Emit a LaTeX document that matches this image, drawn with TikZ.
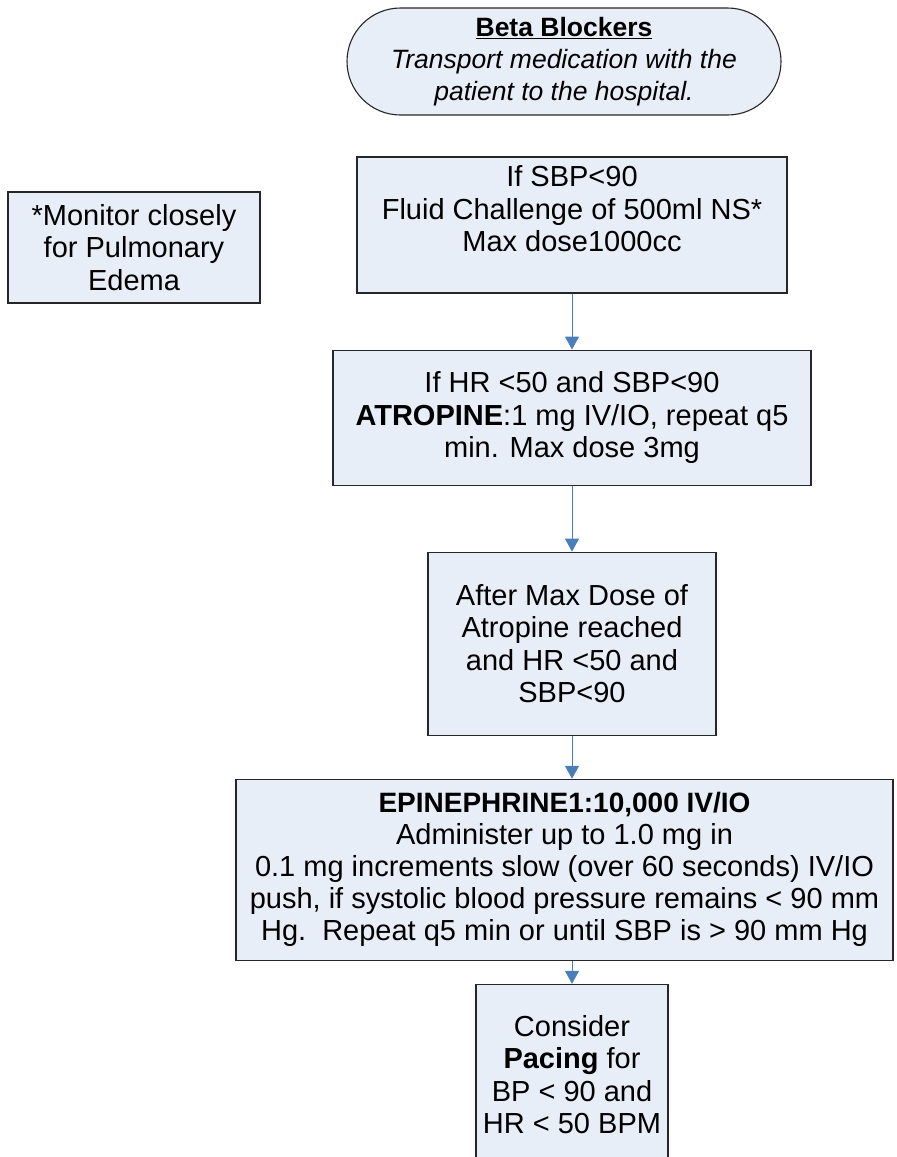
\documentclass[tikz,border=0pt]{standalone}
\usepackage{fontspec}
\setmainfont{Liberation Sans}
\usepackage{tikz}
\usetikzlibrary{shapes,arrows.meta}
\usetikzlibrary{positioning}
\usepackage{xcolor}
\definecolor{boxfill}{RGB}{232,238,247}
\definecolor{flowblue}{RGB}{74,126,187}

\tikzset{
  stepbox/.style={draw=black!85, line width=1.1pt, fill=boxfill, align=center,
    inner sep=0pt, font=\fontsize{29}{32.5}\selectfont},
  flow/.style={draw=flowblue, line width=1pt, -{Triangle[width=14pt,length=13pt]}}
}

\begin{document}
\begin{tikzpicture}[x=1pt, y=-1pt]
  \useasboundingbox (0,0) rectangle (897,1157);

  \node[stepbox, rounded corners=53.5pt, minimum width=434pt, minimum height=107pt,
        font=\fontsize{26.5}{32}\selectfont] (start) at (564,61.5)
        {\underline{\textbf{Beta Blockers}}\\\textit{Transport medication with the}\\\textit{patient to the hospital.}};

  \node[stepbox, minimum width=252pt, minimum height=111pt] (note) at (134,247.5)
        {*Monitor closely\\for Pulmonary\\Edema};

  \node[stepbox, minimum width=430pt, minimum height=136pt] (fluid) at (572,225)
        {If SBP<90\\Fluid Challenge of 500ml NS*\\Max dose1000cc\\~};
  \node[stepbox, minimum width=478pt, minimum height=135pt] (atropine) [below=56pt of fluid]
        {If HR <50 and SBP<90\\\textbf{ATROPINE}:1 mg IV/IO, repeat q5\\min. Max dose 3mg};
  \node[stepbox, minimum width=288pt, minimum height=183pt] (maxdose) [below=66pt of atropine]
        {After Max Dose of\\Atropine reached\\and HR <50 and\\SBP<90};
  \node[stepbox, minimum width=657pt, minimum height=181pt, font=\fontsize{29}{32}\selectfont]
        (epi) [below=43pt of maxdose, xshift=-7.5pt]
        {{\fontsize{28}{32}\selectfont\textbf{EPINEPHRINE1:10,000 IV/IO}}\\Administer up to 1.0 mg in\\0.1 mg increments slow (over 60 seconds) IV/IO\\push, if systolic blood pressure remains < 90 mm\\Hg.\ \ Repeat q5 min or until SBP is > 90 mm Hg};
  \node[stepbox, minimum width=192pt, minimum height=180pt] (pacing) [below=23pt of epi, xshift=7.5pt]
        {Consider\\\textbf{Pacing} for\\BP < 90 and\\HR < 50 BPM};

  \draw[flow] (fluid) -- (atropine);
  \draw[flow] (atropine) -- (maxdose);
  \draw[flow] (maxdose.south) -- (maxdose.south |- epi.north);
  \draw[flow] (pacing.north |- epi.south) -- (pacing.north);
\end{tikzpicture}
\end{document}
